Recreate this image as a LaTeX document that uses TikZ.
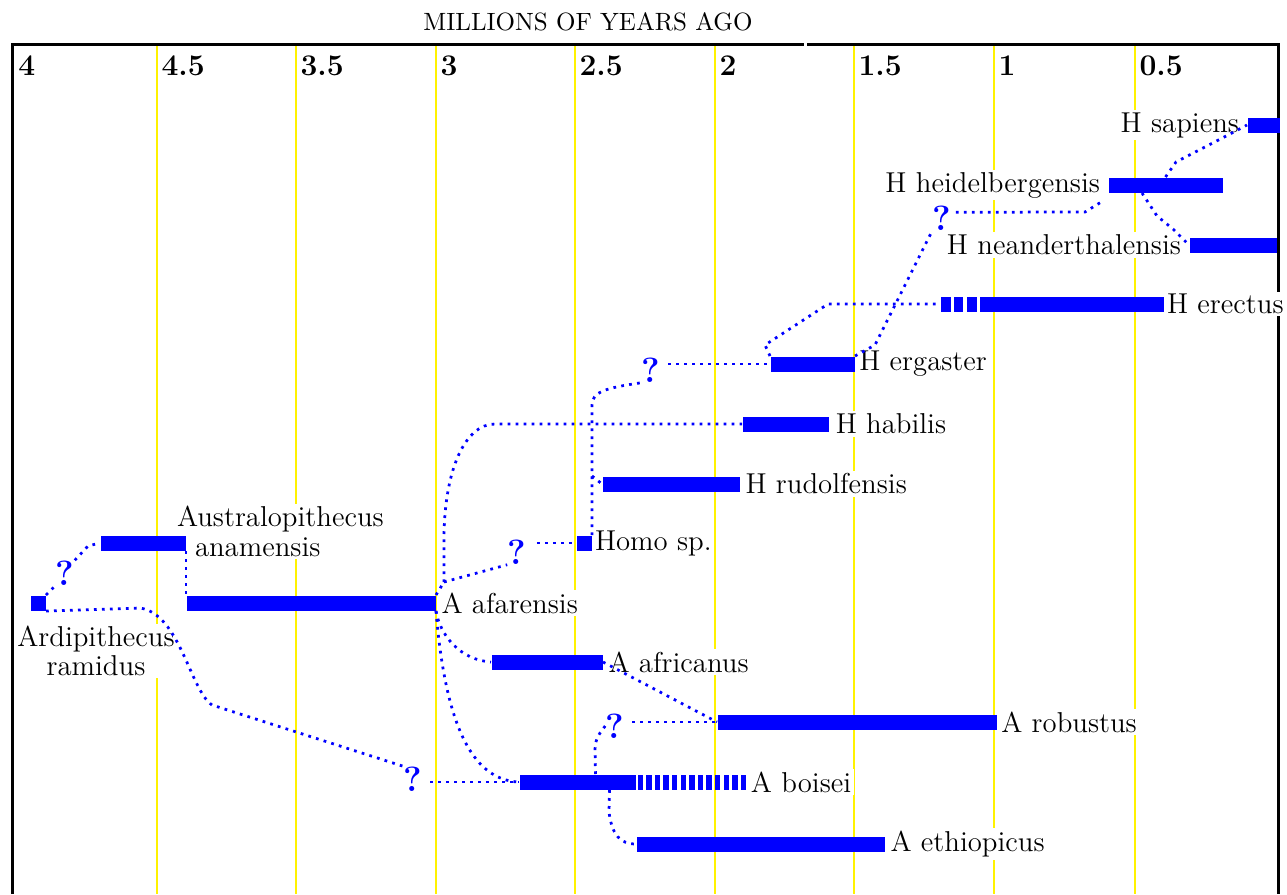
\documentclass[tikz,border=0pt]{standalone}
\usetikzlibrary{positioning}

\tikzset{
  bar/.style={fill=blue, inner sep=0pt, minimum height=6pt, minimum width=#1*0.4pt, anchor=west},
  lbl/.style={font=\fontsize{11.5}{11.5}\selectfont, fill=white, inner sep=1pt},
  yr/.style={font=\bfseries\fontsize{12}{12}\selectfont, anchor=north west, inner sep=0pt},
  qm/.style={font=\bfseries\fontsize{14}{14}\selectfont, text=blue, inner sep=0pt},
  dots/.style={blue, line width=1.1pt, dash pattern=on 1.1pt off 2.1pt},
  yline/.style={yellow, line width=0.8pt},
}

\begin{document}
\begin{tikzpicture}[x=0.4pt, y=-0.4pt]
\useasboundingbox (0,0) rectangle (1287,894);

% time scale
\node[font=\fontsize{10}{10}\selectfont] (title) at (588,22) {MILLIONS OF YEARS AGO};
\draw[line width=1.2pt] (12,894)--(12,44)--(804,44);
\draw[line width=1.2pt] (807,44)--(1278,44)--(1278,894);
\node[yr] (yr0) at (18,55) {4};
\foreach \xp/\yrtext in {157/4.5, 296/3.5, 436/3, 575/2.5, 715/2, 854/1.5, 994/1, 1135/0.5}
{
    \draw[yline] (\xp,46)--(\xp,894);
    \node[yr] (yr\xp) at (\xp+4,55) {\yrtext};
}

% ranges
\node[bar=32] (sap) at (1247,125) {};
\node[bar=114] (hei) at (1108,185) {};
\node[bar=87] (nea) at (1189,245) {};
\node[bar=184] (ere) at (979,304) {};
\foreach \xp/\w in {940/10, 953/9, 966/10}
    \node[bar=\w] (ered\xp) at (\xp,304) {};
\node[bar=84] (erg) at (770,364) {};
\node[bar=86] (hab) at (742,424) {};
\node[bar=137] (rud) at (602,484) {};
\node[bar=15] (hsp) at (576,543) {};
\node[bar=85] (ana) at (100,543) {};
\node[bar=249] (afa) at (186,603) {};
\node[bar=15] (ard) at (30,603) {};
\node[bar=111] (afr) at (491,662) {};
\node[bar=279] (rob) at (717,722) {};
\node[bar=116] (boi) at (519,782) {};
\foreach \i in {0,...,12}
    \node[bar=5.5] (boih\i) at (637+8.6*\i,782) {};
\node[bar=248] (eth) at (636,844) {};

% names
\node[lbl, left=2pt of sap] (sapl) {H sapiens};
\node[lbl, left=2pt of hei] (heil) {H heidelbergensis};
\node[lbl, left=2pt of nea] (neal) {H neanderthalensis};
\node[lbl, right=0pt of ere] (erel) {H erectus};
\node[lbl, right=0.5pt of erg] (ergl) {H ergaster};
\node[lbl, right=1.5pt of hab] (habl) {H habilis};
\node[lbl, right=1pt of rud] (rudl) {H rudolfensis};
\node[lbl, right=0pt of hsp] (hspl) {Homo sp.};
\node[lbl, anchor=north west] (anal) at (174,503) {Australopithecus};
\node[lbl, anchor=west] (anal2) at (192,547) {anamensis};
\node[lbl, right=1pt of afa] (afal) {A afarensis};
\node[lbl, align=center] (ardl) at (96,651) {Ardipithecus\\ramidus};
\node[lbl, right=1pt of afr] (afrl) {A africanus};
\node[lbl, right=0.5pt of rob] (robl) {A robustus};
\node[lbl, right=0.5pt of boih12] (boil) {A boisei};
\node[lbl, right=1pt of eth] (ethl) {A ethiopicus};

% unknown ancestors
\node[qm] (q1) at (942,218) {?};
\node[qm] (q2) at (651,370) {?};
\node[qm] (q3) at (517,552) {?};
\node[qm] (q4) at (65,573) {?};
\node[qm] (q5) at (413,779) {?};
\node[qm] (q6) at (615,726) {?};

% links
\draw[dots] (ard.north east) -- (q4.south west);
\draw[dots] (q4.north east) -- (88,546) -- (ana.west);
\draw[dots] (ard.south east) -- (140,608) .. controls (180,614) and (190,690) .. (212,705) -- (q5.north west);
\draw[dots, shorten <=3pt] (q5.east |- boi.west) -- (boi.west);
\draw[dots] (ana.south east) -- (ana.south east |- afa.north);

\coordinate (afaup) at (444,582);
\draw[dots] (afa.north east) -- (afaup);
\draw[dots] (afaup) -- (444,540) .. controls (444,470) and (465,424) .. (495,424) -- (hab.west);
\draw[dots] (afaup) -- (q3.south west);
\draw[dots, shorten <=4pt] (q3.east |- hsp.west) -- (hsp.west);
\draw[dots] (afa.south east) .. controls (440,635) and (460,660) .. (afr.west);
\draw[dots] (afa.south east) .. controls (445,720) and (470,780) .. (boi.west);

\draw[dots] (hsp.north east) -- (592,405) .. controls (592,392) and (605,388) .. (q2.south west);
\coordinate (trunk) at (592,476);
\draw[dots] (trunk) -- (rud.west);
\draw[dots, shorten <=3pt] (q2.east |- erg.west) -- (erg.west);

\draw[dots] (erg.north west) -- (765,345) -- (828,304) -- (ered940.west);
\draw[dots] (erg.north east) -- (875,345) -- (q1.south west);
\draw[dots] (q1.north east) ++(4,7) -- (1085,212) -- (heil.south east);
\draw[dots] (hei.north) -- (1176,162) -- (1230,134) -- (sap.west);
\draw[dots] (hei.south west) ++(34,0) -- (1157,216) -- (1173,229) -- (nea.west);

\draw[dots] (afr.east) -- (rob.west);
\draw[dots, shorten <=3pt] (q6.east |- rob.west) -- (rob.west);
\draw[dots] (boi.north) ++(18,0) -- (595,750) .. controls (595,738) and (600,733) .. (q6.west);
\draw[dots] (boi.south) ++(32,0) -- (609,812) .. controls (612,835) and (620,844) .. (eth.west);
\end{tikzpicture}
\end{document}
